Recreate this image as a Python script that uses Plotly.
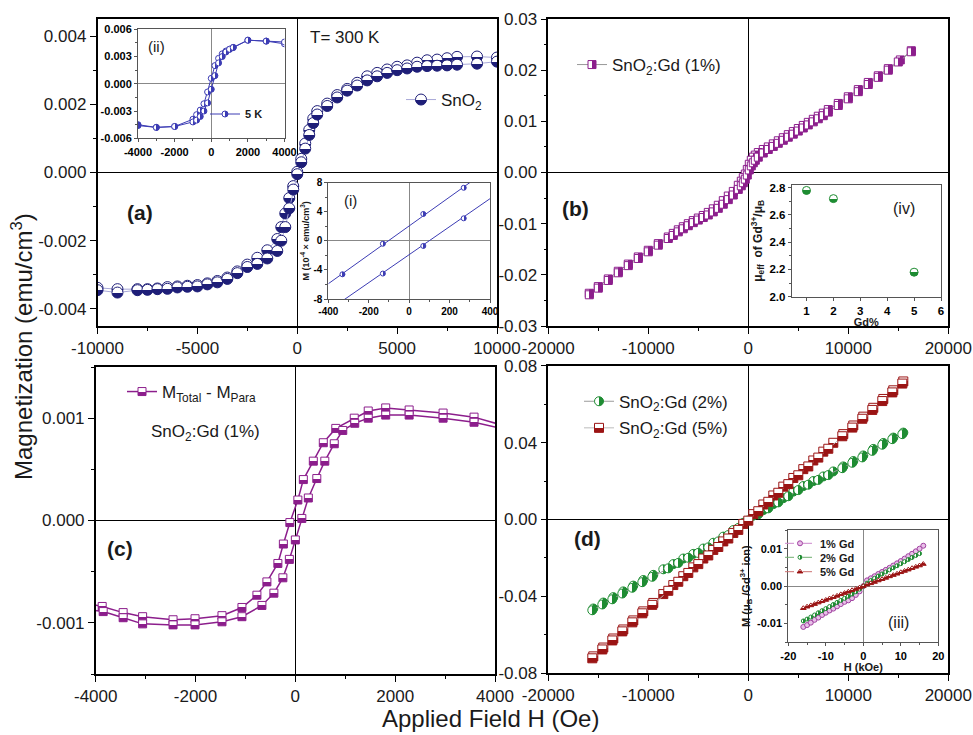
import plotly.graph_objects as go

FONT = "Arial, Liberation Sans, sans-serif"
NAVY = "#1e1e78"
BLUE = "#3c3cb4"
PURPLE = "#8c1e8c"
GREEN = "#1e8c32"
RED = "#9b1414"
W, H = 973, 735

# ---------------- Panel (a): SnO2, 300 K ----------------
a_desc_H = [10000, 9000, 8000, 7500, 7000, 6500, 6000, 5500, 5000, 4500, 4000, 3500, 3000, 2500, 2000, 1500,
            1000, 800, 600, 400, 200, 0, -200, -400, -600, -800, -1000, -1500, -2000, -2500, -3000, -3500,
            -4000, -4500, -5000, -5500, -6000, -6500, -7000, -7500, -8000, -9000, -10000]
a_desc_M = [0.00337, 0.00340, 0.00339, 0.00335, 0.00331, 0.00329, 0.00322, 0.00314, 0.00310, 0.00302,
            0.00292, 0.00282, 0.00263, 0.00245, 0.00227, 0.00202, 0.00180, 0.00158, 0.00125, 0.00085,
            0.00040, 0.00002, -0.00040, -0.00075, -0.00120, -0.00160, -0.00195, -0.00228, -0.00250, -0.00270,
            -0.00290, -0.00308, -0.00318, -0.00325, -0.00330, -0.00332, -0.00334, -0.00336, -0.00340, -0.00342,
            -0.00342, -0.00342, -0.00338]
a_asc_H = [-10000, -9000, -8000, -7500, -7000, -6500, -6000, -5500, -5000, -4500, -4000, -3500, -3000, -2500,
           -2000, -1500, -1000, -800, -600, -400, -200, 0, 200, 400, 600, 800, 1000, 1500, 2000, 2500, 3000,
           3500, 4000, 4500, 5000, 5500, 6000, 6500, 7000, 7500, 8000, 9000, 10000]
a_asc_M = [-0.00345, -0.00352, -0.00345, -0.00344, -0.00342, -0.00341, -0.00337, -0.00335, -0.00334, -0.00328,
           -0.00322, -0.00312, -0.00295, -0.00277, -0.00268, -0.00252, -0.00230, -0.00200, -0.00160, -0.00105,
           -0.00050, -0.00005, 0.00030, 0.00070, 0.00110, 0.00145, 0.00170, 0.00195, 0.00220, 0.00240,
           0.00255, 0.00270, 0.00282, 0.00292, 0.00300, 0.00305, 0.00310, 0.00312, 0.00313, 0.00314,
           0.00316, 0.00319, 0.00325]

# ---------------- Inset (ii): SnO2, 5 K ----------------
ii_desc_H = [4000, 3000, 2000, 1200, 1000, 800, 600, 400, 200, 0, -200, -400, -600, -800, -1000, -2000, -3000, -4000]
ii_desc_M = [0.0044, 0.0047, 0.0048, 0.0040, 0.0038, 0.0036, 0.0033, 0.0028, 0.0020, 0.0006, -0.0009, -0.0022,
             -0.0029, -0.0034, -0.0039, -0.0047, -0.0048, -0.0045]
ii_asc_H = [-4000, -3000, -2000, -1000, -800, -600, -400, -200, 0, 200, 400, 600, 800, 1000, 1200, 2000, 3000, 4000]
ii_asc_M = [-0.0046, -0.0048, -0.0047, -0.0042, -0.0040, -0.0036, -0.0030, -0.0021, -0.0006, 0.0009, 0.0023,
            0.0030, 0.0035, 0.0038, 0.0040, 0.0048, 0.0047, 0.0046]

# ---------------- Inset (i): low-field loop (10^-4 emu/cm3) ----------------
i_fit_H = [-400, 400]
i_up_fit = [-5.9, 10.0]
i_dn_fit = [-9.6, 5.8]
i_up_H = [-330, -130, 70, 270]
i_up_M = [-4.6, -0.4, 3.7, 7.3]
i_dn_H = [-130, 70, 270]
i_dn_M = [-4.5, -0.7, 3.1]

# ---------------- Panel (b): SnO2:Gd (1%) ----------------
b_desc_H = [16300, 15200, 14000, 13000, 12000, 11000, 10000, 9000, 8000, 7500, 7000, 6500, 6000, 5500, 5000,
            4500, 4000, 3500, 3000, 2500, 2000, 1500, 1000, 700, 500, 300, 100, -100, -300, -500, -700, -1000,
            -1500, -2000, -2500, -3000, -3500, -4000, -4500, -5000, -5500, -6000, -6500, -7000, -7500, -8000,
            -9000, -10000, -11000, -12000, -13000, -14000, -15000, -15900]
b_desc_M = [0.0238, 0.0220, 0.0203, 0.0189, 0.0176, 0.0162, 0.0148, 0.0135, 0.0123, 0.0116,
            0.0110, 0.0104, 0.0098, 0.0092, 0.0086, 0.0080, 0.0074, 0.0068, 0.0062, 0.0056,
            0.0050, 0.0045, 0.0039, 0.0034, 0.0030, 0.0024, 0.0016, 0.0006, -0.0003, -0.0010,
            -0.0017, -0.0025, -0.0037, -0.0046, -0.0055, -0.0064, -0.0071, -0.0078, -0.0084, -0.0089,
            -0.0094, -0.0100, -0.0106, -0.0112, -0.0119, -0.0126, -0.0139, -0.0152, -0.0165, -0.0179,
            -0.0193, -0.0208, -0.0223, -0.0236]
b_asc_H = [-15900, -15000, -14000, -13000, -12000, -11000, -10000, -9000, -8000, -7500, -7000, -6500, -6000,
           -5500, -5000, -4500, -4000, -3500, -3000, -2500, -2000, -1500, -1000, -700, -500, -300, -100, 100,
           300, 500, 700, 1000, 1500, 2000, 2500, 3000, 3500, 4000, 4500, 5000, 5500, 6000, 6500, 7000, 7500,
           8000, 9000, 10000, 11000, 12000, 13000, 14000, 15000, 16300]
b_asc_M = [-0.0239, -0.0226, -0.0211, -0.0196, -0.0182, -0.0168, -0.0155, -0.0142, -0.0129, -0.0123,
           -0.0116, -0.0110, -0.0104, -0.0098, -0.0093, -0.0088, -0.0083, -0.0077, -0.0070, -0.0062,
           -0.0053, -0.0044, -0.0033, -0.0026, -0.0020, -0.0013, -0.0005, 0.0005, 0.0013, 0.0019,
           0.0024, 0.0030, 0.0038, 0.0045, 0.0051, 0.0057, 0.0063, 0.0069, 0.0075, 0.0081,
           0.0087, 0.0093, 0.0099, 0.0105, 0.0111, 0.0118, 0.0131, 0.0144, 0.0158, 0.0172,
           0.0186, 0.0200, 0.0216, 0.0236]

# ---------------- Inset (iv): mu_eff vs Gd% ----------------
iv_gd = [1, 2, 5]
iv_mu = [2.78, 2.72, 2.18]

# ---------------- Panel (c): M_Total - M_Para, SnO2:Gd (1%) ----------------
c_desc_H = [4300, 3580, 2960, 2280, 1810, 1460, 1180, 810, 560, 360, 160, 50, -110, -240, -350, -570, -770,
            -1070, -1470, -2010, -2450, -3060, -3450, -3870, -4300]
c_desc_M = [0.00091, 0.00101, 0.00105, 0.00108, 0.00110, 0.00107, 0.00100, 0.00090, 0.00076, 0.00058,
            0.00040, 0.00020, -0.00002, -0.00023, -0.00042, -0.00060, -0.00073, -0.00085, -0.00093, -0.00096,
            -0.00097, -0.00094, -0.00090, -0.00084, -0.00080]
c_asc_H = [-4300, -3850, -3450, -3060, -2450, -2010, -1470, -1070, -670, -430, -250, -120, 0, 130, 260, 430,
           590, 780, 950, 1190, 1460, 1810, 2280, 2960, 3580, 4300]
c_asc_M = [-0.00086, -0.00089, -0.00095, -0.00101, -0.00102, -0.00102, -0.00099, -0.00094, -0.00083, -0.00071,
           -0.00056, -0.00038, -0.00019, 0.00002, 0.00022, 0.00041, 0.00058, 0.00075, 0.00088, 0.00095,
           0.00100, 0.00103, 0.00103, 0.00100, 0.00096, 0.00088]

# ---------------- Panel (d): SnO2:Gd (2%) and (5%) ----------------
d_desc_H = [15500, 14500, 13500, 12500, 11500, 10500, 9500, 8500, 7500, 6500, 5500, 4500, 3500, 2500, 1500, 500,
            -500, -1500, -2500, -3500, -4500, -5500, -6500, -7500, -8500, -9500, -10500, -11500, -12500, -13500,
            -14500, -15500]
d_asc_H = [-15600, -14600, -13600, -12600, -11600, -10600, -9600, -8000, -7000, -6000, -5000, -4000, -3000,
           -2000, -1000, 0, 1000, 2000, 3000, 4000, 5000, 6000, 7000, 8000, 9400, 10400, 11400, 12400, 13400,
           14400, 15400]
g_desc_M = [0.0452, 0.0426, 0.0398, 0.0367, 0.0333, 0.0304, 0.0276, 0.0250, 0.0224, 0.0200, 0.0174, 0.0145,
            0.0111, 0.0080, 0.0049, 0.0020, -0.0017, -0.0055, -0.0089, -0.0121, -0.0151, -0.0179, -0.0203,
            -0.0232, -0.0259, -0.0288, -0.0315, -0.0344, -0.0374, -0.0404, -0.0432, -0.0463]
g_asc_M = [-0.0472, -0.0442, -0.0415, -0.0385, -0.0355, -0.0326, -0.0298, -0.0254, -0.0226, -0.0199, -0.0174,
           -0.0145, -0.0114, -0.0081, -0.0044, -0.0005, 0.0027, 0.0058, 0.0089, 0.0121, 0.0153, 0.0181, 0.0206,
           0.0231, 0.0267, 0.0295, 0.0323, 0.0357, 0.0389, 0.0418, 0.0444]
r_desc_M = [0.0718, 0.0672, 0.0627, 0.0581, 0.0535, 0.0489, 0.0444, 0.0399, 0.0353, 0.0307, 0.0262, 0.0216,
            0.0171, 0.0125, 0.0078, 0.0028, -0.0023, -0.0070, -0.0114, -0.0158, -0.0203, -0.0249, -0.0295,
            -0.0341, -0.0388, -0.0434, -0.0478, -0.0525, -0.0572, -0.0619, -0.0666, -0.0712]
r_asc_M = [-0.0722, -0.0676, -0.0629, -0.0582, -0.0535, -0.0488, -0.0444, -0.0371, -0.0324, -0.0278, -0.0232,
           -0.0187, -0.0143, -0.0099, -0.0054, -0.0006, 0.0043, 0.0092, 0.0139, 0.0184, 0.0230, 0.0276, 0.0322,
           0.0368, 0.0433, 0.0478, 0.0524, 0.0570, 0.0616, 0.0661, 0.0707]

# ---------------- Inset (iii): M per Gd ion vs H (kOe) ----------------
iii_H = [-16, -15, -14, -13, -12, -11, -10, -9, -8, -7, -6, -5, -4, -3, -2, -1, 0,
         1, 2, 3, 4, 5, 6, 7, 8, 9, 10, 11, 12, 13, 14, 15, 16]
iii_1 = [-0.0109, -0.0104, -0.00975, -0.0090, -0.0084, -0.0077, -0.0071, -0.0065, -0.0060, -0.0054, -0.0048,
         -0.0042, -0.0038, -0.0032, -0.00235, -0.0014, 0.0000, 0.00155, 0.0021, 0.00265, 0.00325, 0.0038,
         0.00435, 0.0049, 0.0055, 0.0061, 0.0067, 0.00735, 0.0080, 0.00865, 0.0093, 0.0100, 0.0108]
iii_2 = [-0.0093, -0.0088, -0.00825, -0.0077, -0.0071, -0.00655, -0.0060, -0.00545, -0.0049, -0.00435, -0.0038,
         -0.00325, -0.0027, -0.0021, -0.0015, -0.0008, 0.0000, 0.0008, 0.0015, 0.0021, 0.0027, 0.00325, 0.0038,
         0.00435, 0.0049, 0.00545, 0.0060, 0.00655, 0.0071, 0.00765, 0.0082, 0.0087]
iii_5 = [-0.0059, -0.0055, -0.00515, -0.0048, -0.0044, -0.00405, -0.0037, -0.0033, -0.00295, -0.0026, -0.0022,
         -0.00185, -0.0015, -0.0011, -0.00075, -0.0004, 0.0000, 0.0004, 0.00075, 0.0011, 0.0015, 0.00185, 0.0022,
         0.0026, 0.00295, 0.0033, 0.0037, 0.00405, 0.0044, 0.0048, 0.00515, 0.0055, 0.0059]

# ---------------- Tick labels ----------------
a_xt = [-10000, -5000, 0, 5000, 10000]
a_xl = ["-10000", "-5000", "0", "5000", "10000"]
a_yt = [-0.004, -0.002, 0, 0.002, 0.004]
a_yl = ["-0.004", "-0.002", "0.000", "0.002", "0.004"]
b_xt = [-20000, -10000, 0, 10000, 20000]
b_xl = ["-20000", "-10000", "0", "10000", "20000"]
b_yt = [-0.03, -0.02, -0.01, 0, 0.01, 0.02, 0.03]
b_yl = ["-0.03", "-0.02", "-0.01", "0.00", "0.01", "0.02", "0.03"]
c_xt = [-4000, -2000, 0, 2000, 4000]
c_xl = ["-4000", "-2000", "0", "2000", "4000"]
c_yt = [-0.001, 0, 0.001]
c_yl = ["-0.001", "0.000", "0.001"]
d_yt = [-0.08, -0.04, 0, 0.04, 0.08]
d_yl = ["-0.08", "-0.04", "0.00", "0.04", "0.08"]
ii_xt = [-4000, -2000, 0, 2000, 4000]
ii_xl = ["-4000", "-2000", "0", "2000", "4000"]
ii_yt = [-0.006, -0.003, 0, 0.003, 0.006]
ii_yl = ["-0.006", "-0.003", "0.000", "0.003", "0.006"]
i_xt = [-400, -200, 0, 200, 400]
i_xl = ["-400", "-200", "0", "200", "400"]
i_yt = [-8, -4, 0, 4, 8]
i_yl = ["-8", "-4", "0", "4", "8"]
iv_xt = [1, 2, 3, 4, 5, 6]
iv_xl = ["1", "2", "3", "4", "5", "6"]
iv_yt = [2.0, 2.2, 2.4, 2.6, 2.8]
iv_yl = ["2.0", "2.2", "2.4", "2.6", "2.8"]
iii_xt = [-20, -10, 0, 10, 20]
iii_xl = ["-20", "-10", "0", "10", "20"]
iii_yt = [-0.01, 0, 0.01]
iii_yl = ["-0.01", "0.00", "0.01"]


def px(x):
    return x / W


def py(y):
    return 1 - y / H


def half(color, kind, size, symbol="circle", lw=1):
    return dict(symbol=symbol, size=size, color="white",
                gradient=dict(type=kind, color=color),
                line=dict(color=color, width=lw))


fig = go.Figure()

# Panel (a)
fig.add_trace(go.Scatter(x=a_desc_H, y=a_desc_M, mode="lines+markers", xaxis="x", yaxis="y",
                         line=dict(color="#a8a8d8", width=1), marker=half(NAVY, "vertical", 11),
                         name="SnO<sub>2</sub>", legend="legend", showlegend=True))
fig.add_trace(go.Scatter(x=a_asc_H, y=a_asc_M, mode="lines+markers", xaxis="x", yaxis="y",
                         line=dict(color="#a8a8d8", width=1), marker=half(NAVY, "vertical", 11),
                         showlegend=False))
# Inset (ii)
fig.add_trace(go.Scatter(x=ii_desc_H, y=ii_desc_M, mode="lines+markers", xaxis="x5", yaxis="y5",
                         line=dict(color=BLUE, width=1), marker=half(BLUE, "horizontal", 6),
                         name="5 K", legend="legend5", showlegend=True))
fig.add_trace(go.Scatter(x=ii_asc_H, y=ii_asc_M, mode="lines+markers", xaxis="x5", yaxis="y5",
                         line=dict(color=BLUE, width=1), marker=half(BLUE, "horizontal", 6),
                         showlegend=False))
# Inset (i)
for fy in (i_up_fit, i_dn_fit):
    fig.add_trace(go.Scatter(x=i_fit_H, y=fy, mode="lines", xaxis="x6", yaxis="y6",
                             line=dict(color=BLUE, width=1), showlegend=False))
fig.add_trace(go.Scatter(x=i_up_H, y=i_up_M, mode="markers", xaxis="x6", yaxis="y6",
                         marker=half(BLUE, "horizontal", 5), showlegend=False))
fig.add_trace(go.Scatter(x=i_dn_H, y=i_dn_M, mode="markers", xaxis="x6", yaxis="y6",
                         marker=half(BLUE, "horizontal", 5), showlegend=False))

# Panel (b)
fig.add_trace(go.Scatter(x=b_desc_H, y=b_desc_M, mode="lines+markers", xaxis="x2", yaxis="y2",
                         line=dict(color="#999999", width=1), marker=half(PURPLE, "horizontal", 8, "square"),
                         name="SnO<sub>2</sub>:Gd (1%)", legend="legend2", showlegend=True))
fig.add_trace(go.Scatter(x=b_asc_H, y=b_asc_M, mode="lines+markers", xaxis="x2", yaxis="y2",
                         line=dict(color="#999999", width=1), marker=half(PURPLE, "horizontal", 8, "square"),
                         showlegend=False))
# Inset (iv)
fig.add_trace(go.Scatter(x=iv_gd, y=iv_mu, mode="markers", xaxis="x7", yaxis="y7",
                         marker=half(GREEN, "vertical", 8), showlegend=False))

# Panel (c)
fig.add_trace(go.Scatter(x=c_desc_H, y=c_desc_M, mode="lines+markers", xaxis="x3", yaxis="y3",
                         line=dict(color=PURPLE, width=1.5), marker=half(PURPLE, "vertical", 8, "square"),
                         name="M<sub>Total</sub> - M<sub>Para</sub>", legend="legend3", showlegend=True))
fig.add_trace(go.Scatter(x=c_asc_H, y=c_asc_M, mode="lines+markers", xaxis="x3", yaxis="y3",
                         line=dict(color=PURPLE, width=1.5), marker=half(PURPLE, "vertical", 8, "square"),
                         showlegend=False))

# Panel (d)
fig.add_trace(go.Scatter(x=d_desc_H, y=g_desc_M, mode="lines+markers", xaxis="x4", yaxis="y4",
                         line=dict(color="#9a9a9a", width=1), marker=half(GREEN, "horizontal", 9),
                         name="SnO<sub>2</sub>:Gd (2%)", legend="legend4", showlegend=True))
fig.add_trace(go.Scatter(x=d_asc_H, y=g_asc_M, mode="lines+markers", xaxis="x4", yaxis="y4",
                         line=dict(color="#9a9a9a", width=1), marker=half(GREEN, "horizontal", 9),
                         showlegend=False))
fig.add_trace(go.Scatter(x=d_desc_H, y=r_desc_M, mode="lines+markers", xaxis="x4", yaxis="y4",
                         line=dict(color="#bbbbbb", width=1), marker=half(RED, "vertical", 9, "square"),
                         name="SnO<sub>2</sub>:Gd (5%)", legend="legend7", showlegend=True))
fig.add_trace(go.Scatter(x=d_asc_H, y=r_asc_M, mode="lines+markers", xaxis="x4", yaxis="y4",
                         line=dict(color="#bbbbbb", width=1), marker=half(RED, "vertical", 9, "square"),
                         showlegend=False))
# Inset (iii)
fig.add_trace(go.Scatter(x=iii_H, y=iii_1, mode="lines+markers", xaxis="x8", yaxis="y8",
                         line=dict(color="#cc88cc", width=1, dash="dash"),
                         marker=dict(symbol="circle", size=5, color="#e8c0e8", line=dict(color="#a040a0", width=1)),
                         name="1% Gd", legend="legend6"))
fig.add_trace(go.Scatter(x=iii_H[:32], y=iii_2, mode="lines+markers", xaxis="x8", yaxis="y8",
                         line=dict(color="#70b070", width=1, dash="dash"),
                         marker=half(GREEN, "horizontal", 4), name="2% Gd", legend="legend8"))
fig.add_trace(go.Scatter(x=iii_H, y=iii_5, mode="lines+markers", xaxis="x8", yaxis="y8",
                         line=dict(color="#cc7070", width=1, dash="dash"),
                         marker=half(RED, "vertical", 5, "triangle-up"), name="5% Gd", legend="legend9"))


def main_axis(dom, rng, tv, tt, minor_dt, anchor):
    return dict(domain=dom, range=rng, anchor=anchor, tickmode="array", tickvals=tv, ticktext=tt,
                showline=True, linecolor="black", linewidth=1.5, mirror=True,
                ticks="outside", ticklen=6, tickwidth=1.2, tickcolor="black",
                showgrid=False, zeroline=True, zerolinecolor="black", zerolinewidth=1.2,
                tickfont=dict(family=FONT, size=17, color="#1a1a1a"),
                minor=dict(dtick=minor_dt, tick0=0, ticks="outside", ticklen=3, tickwidth=1,
                           tickcolor="black", showgrid=False))


def inset_axis(dom, rng, tv, tt, anchor, minor_dt=None, fs=11):
    d = dict(domain=dom, range=rng, anchor=anchor, tickmode="array", tickvals=tv, ticktext=tt,
             showline=True, linecolor="#555555", linewidth=1, mirror=True,
             ticks="outside", ticklen=3, tickwidth=1, tickcolor="#555555",
             showgrid=False, zeroline=True, zerolinecolor="#888888", zerolinewidth=1,
             tickfont=dict(family=FONT, size=fs, color="black", weight="bold"))
    if minor_dt:
        d["minor"] = dict(dtick=minor_dt, tick0=0, ticks="outside", ticklen=2, tickwidth=1,
                          tickcolor="#555555", showgrid=False)
    return d


def leg(x, y, size=17, bold=False):
    return dict(x=px(x), y=py(y), xanchor="left", yanchor="middle", bgcolor="rgba(0,0,0,0)",
                borderwidth=0, font=dict(family=FONT, size=size, color="#1a1a1a",
                                         weight="bold" if bold else "normal"))


dom_a_x = [px(97.5), px(497)]
dom_b_x = [px(548.3), px(948.3)]
dom_c_x = [px(95.7), px(495)]
dom_top_y = [py(326), py(19)]
dom_c_y = [py(674), py(367)]
dom_d_y = [py(673.3), py(365.7)]

layout = dict(
    width=W, height=H, margin=dict(l=0, r=0, t=0, b=0, autoexpand=False),
    paper_bgcolor="white", plot_bgcolor="white",
    font=dict(family=FONT, size=17, color="#1a1a1a"),
    xaxis=main_axis(dom_a_x, [-10000, 10000], a_xt, a_xl, 2500, "y"),
    yaxis=main_axis(dom_top_y, [-0.0045, 0.0045], a_yt, a_yl, 0.001, "x"),
    xaxis2=main_axis(dom_b_x, [-20000, 20000], b_xt, b_xl, 5000, "y2"),
    yaxis2=main_axis(dom_top_y, [-0.03, 0.03], b_yt, b_yl, 0.005, "x2"),
    xaxis3=main_axis(dom_c_x, [-4000, 4000], c_xt, c_xl, 1000, "y3"),
    yaxis3=main_axis(dom_c_y, [-0.0015, 0.0015], c_yt, c_yl, 0.0005, "x3"),
    xaxis4=main_axis(dom_b_x, [-20000, 20000], b_xt, b_xl, 5000, "y4"),
    yaxis4=main_axis(dom_d_y, [-0.08, 0.08], d_yt, d_yl, 0.02, "x4"),
    xaxis5=inset_axis([px(138), px(284.5)], [-4000, 4000], ii_xt, ii_xl, "y5", 1000),
    yaxis5=inset_axis([py(138.3), py(29.3)], [-0.006, 0.006], ii_yt, ii_yl, "x5", 0.0015),
    xaxis6=inset_axis([px(328.3), px(490)], [-400, 400], i_xt, i_xl, "y6", 100, 10),
    yaxis6=inset_axis([py(299), py(182.7)], [-8, 8], i_yt, i_yl, "x6", 2, 10),
    xaxis7=inset_axis([px(791.7), px(941)], [0.45, 6], iv_xt, iv_xl, "y7", None, 11.5),
    yaxis7=inset_axis([py(296.7), py(185)], [2.0, 2.82], iv_yt, iv_yl, "x7", 0.1, 11.5),
    xaxis8=inset_axis([px(788.3), px(938.3)], [-20, 20], iii_xt, iii_xl, "y8", 5),
    yaxis8=inset_axis([py(642.3), py(530)], [-0.015, 0.015], iii_yt, iii_yl, "x8", 0.005),
    legend=leg(401, 100),
    legend2=leg(572, 65),
    legend3=leg(122, 392),
    legend4=leg(579, 401.7),
    legend7=leg(579, 428.3),
    legend5=leg(205, 114, 11, True),
    legend6=leg(780, 543.3, 11, True),
    legend8=leg(780, 557.3, 11, True),
    legend9=leg(780, 571.7, 11, True),
)
fig.update_layout(**layout)

fig.update_layout(
    yaxis6=dict(title=dict(text="M (10<sup>-4</sup> × emu/cm<sup>3</sup>)", font=dict(size=9, weight="bold"),
                           standoff=2)),
    yaxis7=dict(title=dict(text="μ<sub>eff</sub>  of Gd<sup>3+</sup>/μ<sub>B</sub>", font=dict(size=12, weight="bold"),
                           standoff=4)),
    xaxis7=dict(title=dict(text="Gd%", font=dict(size=11, weight="bold"), standoff=2)),
    yaxis8=dict(title=dict(text="M (μ<sub>B</sub> /Gd<sup>3+</sup> ion)", font=dict(size=11, weight="bold"),
                           standoff=4)),
    xaxis8=dict(title=dict(text="H (kOe)", font=dict(size=11, weight="bold"), standoff=2)),
)

ann = []


def text(x, y, s, size=17, bold=False, angle=0, xanchor="center"):
    ann.append(dict(x=px(x), y=py(y), xref="paper", yref="paper", text=s, showarrow=False,
                    xanchor=xanchor, yanchor="middle", textangle=angle,
                    font=dict(family=FONT, size=size, color="#1a1a1a", weight="bold" if bold else "normal")))


text(345, 37, "T= 300 K", 17)
text(140, 212, "(a)", 21, True)
text(575, 208, "(b)", 21, True)
text(120, 548, "(c)", 21, True)
text(587, 538, "(d)", 21, True)
text(205, 433, "SnO<sub>2</sub>:Gd (1%)", 17)
text(156, 46, "(ii)", 15)
text(350, 200, "(i)", 15)
text(904, 208, "(iv)", 16)
text(898, 622, "(iii)", 16)
text(22, 347, "Magnetization (emu/cm<sup>3</sup>)", 24, angle=-90)
text(490, 718, "Applied Field H (Oe)", 24)
fig.update_layout(annotations=ann)

# Make the two-colour marker gradients crisp (half-filled symbols)
SHARPEN_JS = """
var gd = document.getElementById('{plot_id}');
function sharpenMarkers() {
  document.querySelectorAll('linearGradient').forEach(function (g) {
    var st = g.querySelectorAll('stop');
    if (st.length !== 2) return;
    var a2 = st[0].cloneNode(true); a2.setAttribute('offset', '50%');
    var b2 = st[1].cloneNode(true); b2.setAttribute('offset', '50%');
    g.insertBefore(a2, st[1]);
    g.insertBefore(b2, st[1]);
  });
}
sharpenMarkers();
if (gd && gd.on) { gd.on('plotly_afterplot', sharpenMarkers); }
"""
fig.write_html("out.html", post_script=SHARPEN_JS)
